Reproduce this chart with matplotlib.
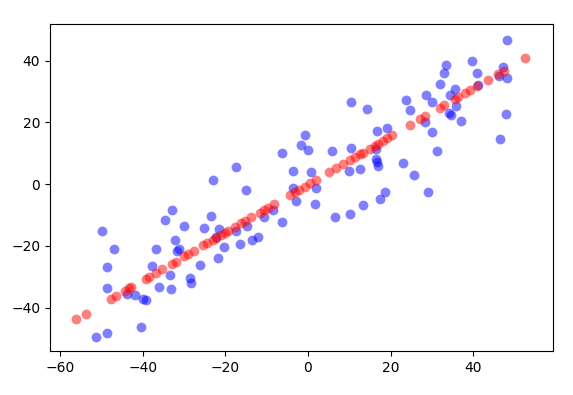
import matplotlib
matplotlib.use("Agg")
import matplotlib.pyplot as plt

# Observed data (blue)
blue_x = [-49.9, -46.9, -48.7, -48.5, -51.2, -48.7, -40.4, -43.7, -41.9, -40.0,
          -39.2, -37.8, -36.8, -36.0, -33.4, -33.1, -34.6, -32.8, -32.1, -31.2,
          -31.6, -29.9, -28.6, -28.4, -26.2, -25.2, -23.0, -23.4, -21.8, -22.2,
          -21.4, -20.4, -17.5, -17.3, -16.5, -14.9, -14.8, -13.5, -12.1, -10.7,
          -8.5, -6.4, -6.2, -3.5, -3.7, -2.8, -1.8, -0.8, 0.0, 0.7,
          2.0, 1.8, 5.7, 6.5, 9.9, 10.1, 10.3, 10.3, 12.7, 13.3,
          14.3, 16.6, 16.4, 16.5, 16.8, 16.9, 17.4, 18.6, 19.1, 22.9,
          23.8, 24.6, 25.7, 28.5, 29.9, 28.3, 30.1, 31.2, 29.1, 31.9,
          32.9, 33.5, 34.3, 35.5, 35.9, 34.1, 34.5, 37.0, 39.6, 41.0,
          41.2, 46.2, 47.1, 48.2, 48.2, 47.9, 46.4]
blue_y = [-15.2, -21.1, -27.0, -33.7, -49.7, -48.3, -46.3, -35.7, -35.9, -37.3,
          -37.6, -26.7, -21.1, -33.2, -29.4, -34.0, -11.7, -8.4, -18.2, -21.0,
          -21.8, -13.7, -30.3, -31.9, -26.3, -14.3, 1.4, -10.3, -23.8, -17.3,
          -14.6, -20.5, 5.7, -15.1, -19.4, -1.9, -13.5, -18.1, -17.3, -10.6,
          -8.4, -12.4, 10.0, 4.3, -1.2, -5.4, 12.7, 16.0, 11.0, 4.0,
          -1.4, -6.4, 10.6, -10.6, 4.3, -9.7, 26.7, 11.7, 4.9, -6.8,
          24.2, 17.1, 11.3, 8.1, 7.2, 5.9, -4.9, -2.4, 18.2, 6.9,
          27.3, 24.1, 2.9, 28.9, 26.7, 20.0, 17.0, 10.6, -2.5, 32.5,
          35.9, 38.7, 28.9, 30.8, 25.4, 22.9, 22.4, 20.3, 40.0, 36.0,
          32.1, 34.9, 38.1, 34.4, 46.7, 22.7, 14.6]

# Model predictions (red)
pred_x = [-56.0, -53.7, -47.7, -46.5, -44.3, -43.2, -42.7, -39.1, -38.4, -36.8,
          -35.2, -33.0, -32.0, -29.9, -29.1, -27.5, -25.3, -24.5, -23.0, -22.2,
          -21.0, -20.0, -19.4, -17.7, -16.1, -15.3, -13.7, -11.7, -10.7, -9.7,
          -8.1, -4.4, -3.2, -2.2, -0.8, 0.4, 2.0, 5.0, 6.9, 8.5,
          10.1, 11.3, 12.5, 13.3, 14.9, 16.2, 17.0, 18.2, 19.2, 20.4,
          24.6, 27.0, 28.3, 31.9, 32.9, 35.5, 36.3, 37.9, 39.1, 40.8,
          43.6, 46.0, 47.4, 52.5]
pred_y = [-43.8, -42.0, -37.3, -36.4, -34.7, -33.8, -33.4, -30.6, -30.1, -28.8,
          -27.6, -25.9, -25.1, -23.4, -22.8, -21.6, -19.9, -19.2, -18.1, -17.4,
          -16.5, -15.7, -15.3, -13.9, -12.7, -12.1, -10.8, -9.3, -8.5, -7.7,
          -6.4, -3.6, -2.6, -1.8, -0.8, 0.2, 1.4, 3.8, 5.3, 6.5,
          7.7, 8.7, 9.6, 10.2, 11.5, 12.5, 13.1, 14.1, 14.9, 15.8,
          19.1, 21.0, 22.0, 24.8, 25.5, 27.6, 28.2, 29.4, 30.4, 31.7,
          33.9, 35.8, 36.8, 40.8]

fig = plt.figure(figsize=(5.73, 3.95), dpi=100)
ax = fig.add_axes([50 / 573, 44 / 395, 502.7 / 573, 327 / 395])
ax.scatter(blue_x, blue_y, s=50, c="b", alpha=0.5, linewidths=0)
ax.scatter(pred_x, pred_y, s=50, c="r", alpha=0.5, linewidths=0)
ax.set_xlim(-62.4, 59.2)
ax.set_ylim(-54.1, 51.9)
ax.set_xticks([-60, -40, -20, 0, 20, 40])
ax.set_yticks([-40, -20, 0, 20, 40])
ax.tick_params(labelsize=10)
fig.savefig("out.png", dpi=100)
